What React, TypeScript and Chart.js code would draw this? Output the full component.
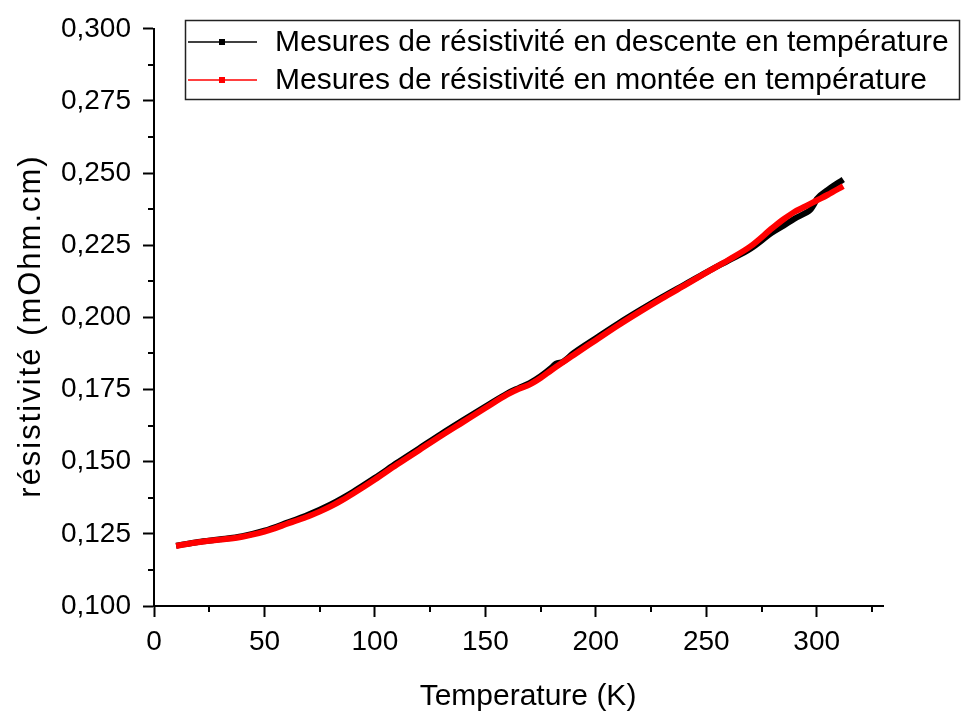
import React, { useEffect, useRef } from 'react';
import { Chart, registerables } from 'chart.js';

Chart.register(...registerables);

const FONT = '"Liberation Sans", Arial, Helvetica, sans-serif';

// Montée en température (red)
const tempMontee = [10, 15, 20, 25, 30, 35, 40, 45, 50, 55, 60, 65, 70, 75, 80, 85, 90, 95, 100, 110, 120, 130, 140, 150, 160, 165, 170, 175, 180, 190, 200, 210, 220, 230, 240, 250, 260, 270, 280, 285, 290, 295, 300, 305, 312];
const rhoMontee = [0.1208, 0.1215, 0.1221, 0.1226, 0.1230, 0.1234, 0.1240, 0.1248, 0.1258, 0.1270, 0.1284, 0.1297, 0.1311, 0.1327, 0.1345, 0.1366, 0.1389, 0.1413, 0.1438, 0.1490, 0.1540, 0.1590, 0.1638, 0.1686, 0.1733, 0.1752, 0.1767, 0.1790, 0.1818, 0.1870, 0.1921, 0.1972, 0.2020, 0.2066, 0.2110, 0.2155, 0.2199, 0.2246, 0.2310, 0.2340, 0.2366, 0.2385, 0.2405, 0.2425, 0.2455];

// Descente en température (black)
const tempDescente = [10, 20, 30, 40, 50, 60, 70, 80, 90, 100, 110, 120, 130, 140, 150, 160, 165, 170, 175, 180, 182, 185, 190, 200, 210, 220, 230, 240, 250, 260, 270, 280, 285, 290, 295, 297, 299, 300, 305, 312];
const rhoDescente = [0.1209, 0.1222, 0.1231, 0.1242, 0.1261, 0.1288, 0.1317, 0.1352, 0.1395, 0.1444, 0.1496, 0.1546, 0.1596, 0.1644, 0.1691, 0.1737, 0.1755, 0.1772, 0.1796, 0.1826, 0.1840, 0.1846, 0.1877, 0.1928, 0.1978, 0.2025, 0.2070, 0.2113, 0.2156, 0.2197, 0.2238, 0.2295, 0.2318, 0.2342, 0.2362, 0.2372, 0.2395, 0.2410, 0.2442, 0.2478];

const xMajorTicks = [0, 50, 100, 150, 200, 250, 300];
const xMinorTicks = [25, 75, 125, 175, 225, 275, 325];
const yMajorTicks = [0.1, 0.125, 0.15, 0.175, 0.2, 0.225, 0.25, 0.275, 0.3];
const yMinorTicks = [0.1125, 0.1375, 0.1625, 0.1875, 0.2125, 0.2375, 0.2625, 0.2875];

const legendLabels = [
  'Mesures de résistivité en descente en température',
  'Mesures de résistivité en montée en température',
];
const legendColors = ['#000000', '#ff0000'];

const xTitle = 'Temperature (K)';
const yTitle = 'résistivité (mOhm.cm)';

const minorTicksPlugin = {
  id: 'minorTicks',
  afterDraw(chart: any) {
    const ctx = chart.ctx;
    const xs = chart.scales.x;
    const ys = chart.scales.y;
    const area = chart.chartArea;
    ctx.save();
    ctx.strokeStyle = '#000';
    ctx.lineWidth = 2;
    ctx.beginPath();
    xMinorTicks.forEach((v) => {
      const px = Math.round(xs.getPixelForValue(v));
      ctx.moveTo(px, area.bottom);
      ctx.lineTo(px, area.bottom + 6);
    });
    yMinorTicks.forEach((v) => {
      const py = Math.round(ys.getPixelForValue(v));
      ctx.moveTo(area.left, py);
      ctx.lineTo(area.left - 6, py);
    });
    ctx.stroke();
    ctx.restore();
  },
};

const titlesPlugin = {
  id: 'axisTitles',
  afterDraw(chart: any) {
    const ctx = chart.ctx;
    ctx.save();
    ctx.fillStyle = '#000';
    // x title
    ctx.font = `30px ${FONT}`;
    ctx.textAlign = 'center';
    ctx.textBaseline = 'alphabetic';
    ctx.fillText(xTitle, 528, 705);
    // y title (rotated)
    ctx.translate(40, 326);
    ctx.rotate(-Math.PI / 2);
    ctx.font = `31px ${FONT}`;
    try {
      (ctx as any).letterSpacing = '2px';
    } catch (e) {}
    ctx.textAlign = 'center';
    ctx.textBaseline = 'alphabetic';
    ctx.fillText(yTitle, 0, 0);
    ctx.restore();
  },
};

const legendPlugin = {
  id: 'boxLegend',
  afterDraw(chart: any) {
    const ctx = chart.ctx;
    ctx.save();
    const x0 = 185, y0 = 20, x1 = 960, y1 = 100;
    ctx.fillStyle = '#fff';
    ctx.fillRect(x0, y0, x1 - x0, y1 - y0);
    ctx.strokeStyle = '#222';
    ctx.lineWidth = 1.5;
    ctx.strokeRect(x0 + 0.5, y0 + 0.5, x1 - x0 - 1, y1 - y0 - 1);
    const rows = [42, 80];
    legendLabels.forEach((label, i) => {
      const y = rows[i];
      ctx.strokeStyle = legendColors[i];
      ctx.lineWidth = 1.5;
      ctx.beginPath();
      ctx.moveTo(188, y);
      ctx.lineTo(257, y);
      ctx.stroke();
      ctx.fillStyle = legendColors[i];
      ctx.fillRect(219, y - 3, 6, 6);
      ctx.fillStyle = '#000';
      ctx.font = `30px ${FONT}`;
      ctx.textBaseline = 'middle';
      ctx.textAlign = 'left';
      ctx.fillText(label, 275, y + 1);
    });
    ctx.restore();
  },
};

export default function App() {
  const ref = useRef<HTMLCanvasElement | null>(null);

  useEffect(() => {
    if (!ref.current) return;
    const chart = new Chart(ref.current, {
      type: 'line',
      data: {
        datasets: [
          {
            label: legendLabels[1],
            data: tempMontee.map((t, i) => ({ x: t, y: rhoMontee[i] })),
            borderColor: '#ff0000',
            backgroundColor: '#ff0000',
            borderWidth: 6,
            pointRadius: 0,
            cubicInterpolationMode: 'monotone',
          },
          {
            label: legendLabels[0],
            data: tempDescente.map((t, i) => ({ x: t, y: rhoDescente[i] })),
            borderColor: '#000000',
            backgroundColor: '#000000',
            borderWidth: 6,
            pointRadius: 0,
            cubicInterpolationMode: 'monotone',
          },
        ],
      },
      options: {
        responsive: false,
        animation: false,
        devicePixelRatio: 1,
        layout: { padding: { top: 20, right: 80, left: 0, bottom: 0 } },
        plugins: {
          legend: { display: false },
          tooltip: { enabled: false },
        },
        scales: {
          x: {
            type: 'linear',
            min: 0,
            max: 330,
            afterBuildTicks: (s: any) => {
              s.ticks = xMajorTicks.map((v) => ({ value: v }));
            },
            afterFit: (s: any) => {
              s.height = 109;
            },
            border: { display: true, color: '#000', width: 2 },
            grid: {
              drawOnChartArea: false,
              drawTicks: true,
              tickLength: 11,
              tickWidth: 2,
              tickColor: '#000',
            },
            ticks: {
              color: '#000',
              font: { family: FONT, size: 28 },
              padding: 8,
              maxRotation: 0,
              callback: (v: any) => String(v),
            },
            title: { display: false },
          },
          y: {
            type: 'linear',
            min: 0.1,
            max: 0.3,
            afterBuildTicks: (s: any) => {
              s.ticks = yMajorTicks.map((v) => ({ value: v }));
            },
            afterFit: (s: any) => {
              s.width = 154;
            },
            border: { display: true, color: '#000', width: 2 },
            grid: {
              drawOnChartArea: false,
              drawTicks: true,
              tickLength: 11,
              tickWidth: 2,
              tickColor: '#000',
            },
            ticks: {
              color: '#000',
              font: { family: FONT, size: 28 },
              padding: 12,
              callback: (v: any) => Number(v).toFixed(3).replace('.', ','),
            },
            title: { display: false },
          },
        },
      },
      plugins: [minorTicksPlugin, titlesPlugin, legendPlugin],
    } as any);
    return () => chart.destroy();
  }, []);

  return (
    <div style={{ position: 'fixed', left: 0, top: 0, width: 963, height: 715, background: '#fff' }}>
      <canvas ref={ref} width={963} height={715} style={{ width: 963, height: 715 }} />
    </div>
  );
}
